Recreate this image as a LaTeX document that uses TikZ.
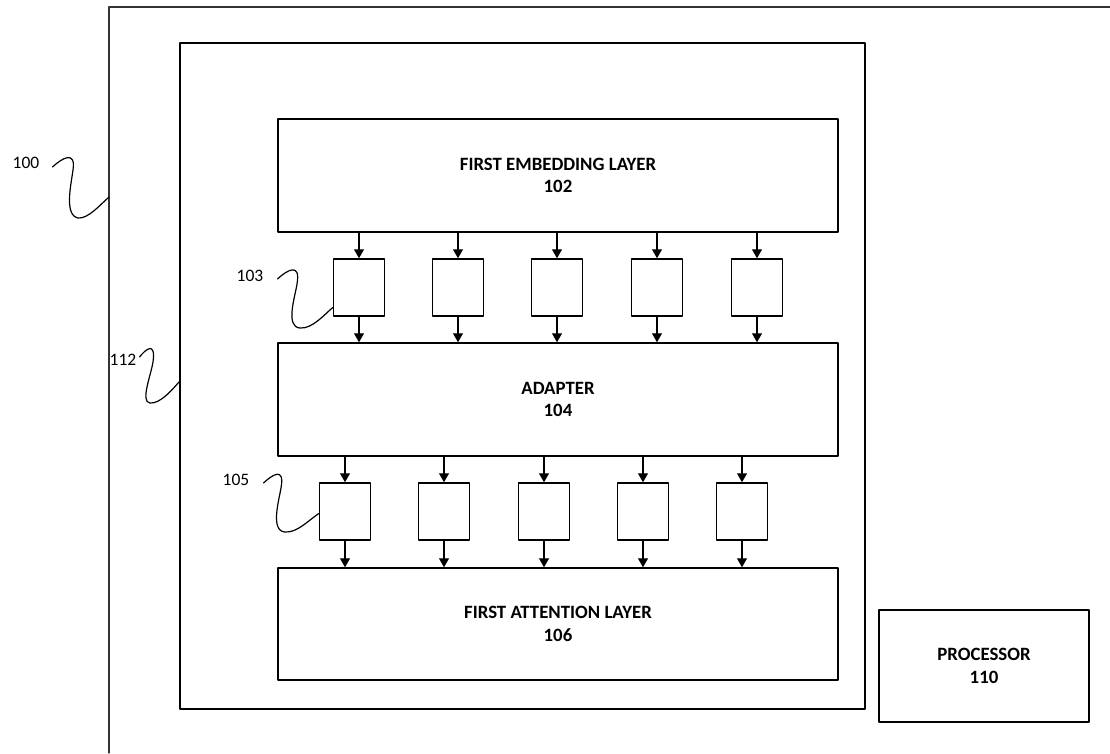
\documentclass[tikz,border=0pt]{standalone}
\usepackage{fontspec}
\setmainfont{Carlito}
\usetikzlibrary{arrows.meta}

\begin{document}
\begin{tikzpicture}[x=1pt, y=-1pt, line join=round, line cap=round, >={Triangle[width=10pt,length=9pt]},
	layer/.style={draw, line width=1.5pt, minimum width=560pt, minimum height=113pt, align=center, font=\fontsize{18.8}{22.5}\selectfont\bfseries},
	cell/.style={draw, line width=1.5pt, minimum width=51pt, minimum height=57pt},
	refnum/.style={font=\fontsize{17.5}{20}\selectfont, inner sep=0pt},
	lead/.style={line width=1.2pt}]
	\useasboundingbox (0,0) rectangle (1110,753);
	% outer device frame (cut at the page edge)
	\draw[line width=1.2pt, black!80] (109,753) -- (109,7) -- (1110,7);
	\coordinate (c100) at (109,197);
	% memory holding the model
	\node[draw, line width=2pt, minimum width=685pt, minimum height=666pt] (sys) at (522.5,376) {};
	\node[layer] (embed) at (558,175.5) {FIRST EMBEDDING LAYER\\102};
	\node[layer] (adapter) at (558,399.5) {ADAPTER\\104};
	\node[layer, minimum height=112pt] (attn) at (558,624) {FIRST ATTENTION LAYER\\106};
	\node[layer, minimum width=210pt, minimum height=112pt] (proc) at (984,666) {PROCESSOR\\110};
	% token vectors
	\foreach \x [count=\i] in {359,458,557,657,757}
		\node[cell] (a\i) at (\x,287.5) {};
	\foreach \x [count=\i] in {345,444,544,643,742}
		\node[cell] (b\i) at (\x,511.5) {};
	\foreach \i in {1,...,5} {
		\draw[->, line width=1.3pt] (a\i |- embed.south) -- (a\i.north);
		\draw[->, line width=1.3pt] (a\i.south) -- (a\i |- adapter.north);
		\draw[->, line width=1.3pt] (b\i |- adapter.south) -- (b\i.north);
		\draw[->, line width=1.3pt] (b\i.south) -- (b\i |- attn.north);
	}
	% reference numerals
	\node[refnum] (n100) at (26,163) {100};
	\node[refnum] (n112) at (123,360) {112};
	\node[refnum] (n103) at (250,276) {103};
	\node[refnum] (n105) at (236,480) {105};
	\draw[lead] ([shift={(13,4)}]n100.east) .. controls (62,158) and (76,150) .. (73,170) .. controls (71,185) and (64,215) .. (78,218) .. controls (88,219) and (100,205) .. (c100);
	\draw[lead] ([shift={(3,-3)}]n112.east) .. controls (145,350) and (156,340) .. (153,362) .. controls (151,375) and (140,402) .. (150,403) .. controls (160,404) and (172,390) .. ([yshift=-6pt]sys.west);
	\draw[lead] ([shift={(14,3)}]n103.east) .. controls (287,270) and (301,262) .. (297,284) .. controls (295,297) and (285,327) .. (300,328) .. controls (312,329) and (324,315) .. ([yshift=-20pt]a1.west);
	\draw[lead] ([shift={(14,3)}]n105.east) .. controls (272,475) and (285,466) .. (281,488) .. controls (279,500) and (270,531) .. (285,532) .. controls (297,533) and (309,520) .. ([yshift=-2pt]b1.west);
\end{tikzpicture}
\end{document}
